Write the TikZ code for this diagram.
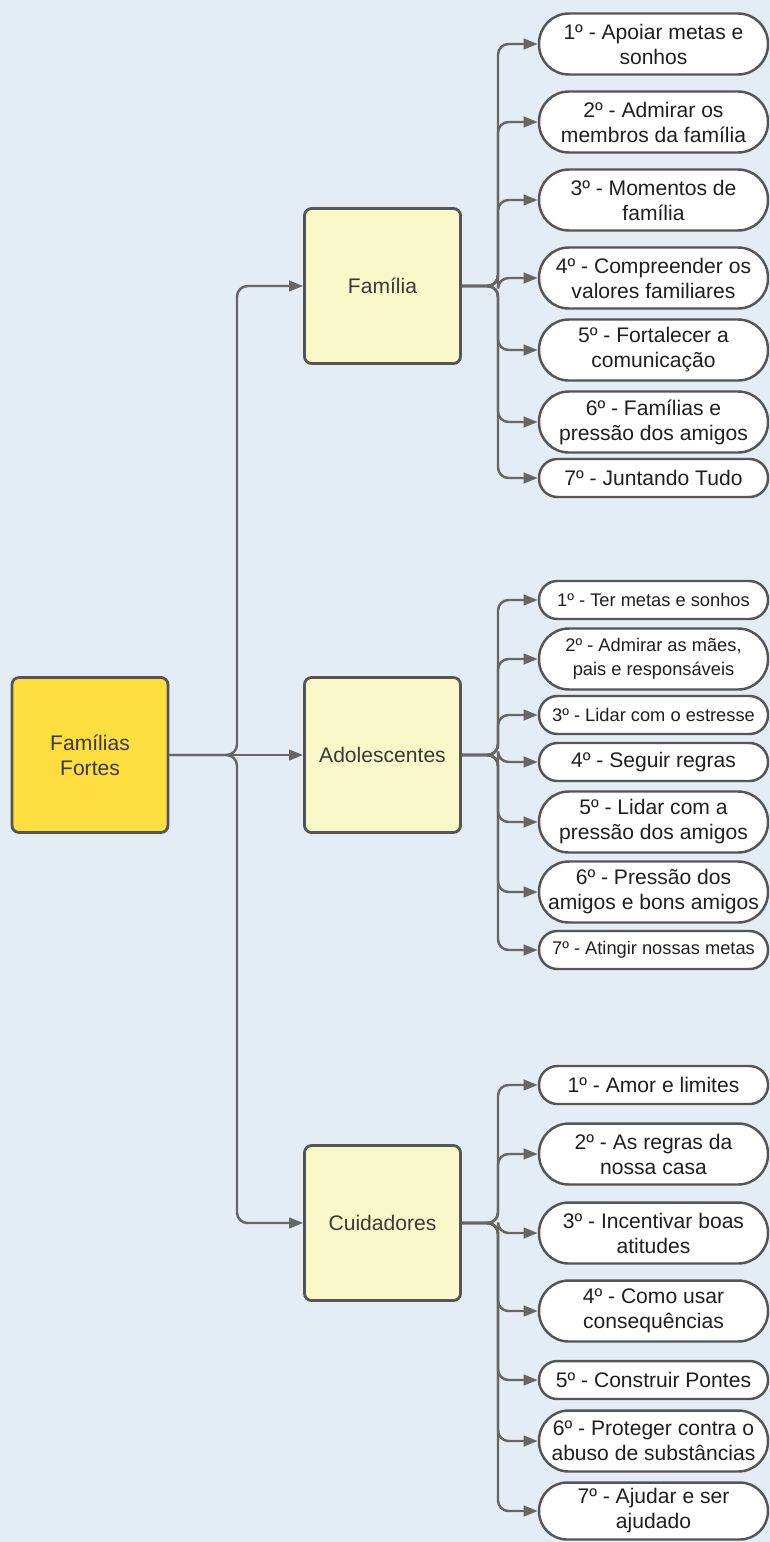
\documentclass[tikz,border=0pt]{standalone}
\usepackage{fontspec}
\setmainfont{Liberation Sans}
\usepackage{xcolor}
\usepackage{tikz}
\usetikzlibrary{arrows.meta,calc}

\definecolor{bgblue}{HTML}{E4ECF6}
\definecolor{rootyellow}{HTML}{FFDF40}
\definecolor{midyellow}{HTML}{F9F8C8}
\definecolor{linegray}{HTML}{666666}
\definecolor{edgegray}{HTML}{555555}
\definecolor{boxtext}{HTML}{3A3A3A}
\definecolor{leaftext}{HTML}{1F1F1F}

\begin{document}
\begin{tikzpicture}[x=0.02cm, y=-0.02cm,
    rootbox/.style={draw=edgegray, line width=1.6pt, fill=rootyellow, rounded corners=4pt,
        minimum width=3.12cm, minimum height=3.1cm, align=center, text=boxtext,
        font=\fontsize{12}{14.2}\selectfont},
    midbox/.style={rootbox, fill=midyellow},
    leaf/.style={draw=edgegray, line width=1.4pt, fill=white, rounded corners=17pt,
        minimum width=4.58cm, minimum height=1.22cm, inner sep=0pt, align=center, text=leaftext,
        font=\fontsize{12}{14.2}\selectfont},
    leafone/.style={leaf, minimum height=0.76cm, rounded corners=10.5pt},
    smalltext/.style={font=\fontsize{10.4}{13.6}\selectfont},
    link/.style={draw=linegray, line width=1.4pt, rounded corners=6pt,
        -{Triangle[length=8pt,width=6pt]}}]

    % background and page size
    \fill[bgblue] (0,0) rectangle (770,1542);
    \useasboundingbox (0,0) rectangle (770,1542);

    % root and the three groups
    \node[rootbox] (root) at (90,755) {Famílias\\Fortes};
    \node[midbox] (fam) at (382.5,286) {Família};
    \node[midbox] (ado) at (382.5,755) {Adolescentes};
    \node[midbox] (cui) at (382.5,1223) {Cuidadores};

    \coordinate (trunk) at (237,755);
    \draw[link] (root.east) -- (trunk) |- (fam.west);
    \draw[link] (root.east) -- (trunk) |- (cui.west);
    \draw[link] (root.east) -- (ado.west);

    % Família
    \node[leaf] (f1) at (653.5,44) {1º - Apoiar metas e\\sonhos};
    \node[leaf] (f2) at (653.5,122) {2º - Admirar os\\membros da família};
    \node[leaf] (f3) at (653.5,200) {3º - Momentos de\\família};
    \node[leaf] (f4) at (653.5,278) {4º - Compreender os\\valores familiares};
    \node[leaf] (f5) at (653.5,350) {5º - Fortalecer a\\comunicação};
    \node[leaf] (f6) at (653.5,422) {6º - Famílias e\\pressão dos amigos};
    \node[leafone] (f7) at (653.5,478) {7º - Juntando Tudo};

    \coordinate (famfork) at (498,286);
    \foreach \i in {1,...,7}
        \draw[link] (fam.east) -- (famfork) |- (f\i.west);

    % Adolescentes
    \node[leafone, smalltext] (a1) at (653.5,600) {1º - Ter metas e sonhos};
    \node[leaf, smalltext] (a2) at (653.5,659) {2º - Admirar as mães,\\pais e responsáveis};
    \node[leafone, smalltext] (a3) at (653.5,715) {3º - Lidar com o estresse};
    \node[leafone] (a4) at (653.5,762) {4º - Seguir regras};
    \node[leaf] (a5) at (653.5,822) {5º - Lidar com a\\pressão dos amigos};
    \node[leaf] (a6) at (653.5,892) {6º - Pressão dos\\amigos e bons amigos};
    \node[leafone, smalltext] (a7) at (653.5,950) {7º - Atingir nossas metas};

    \coordinate (adofork) at (498,755);
    \foreach \i in {1,...,7}
        \draw[link] (ado.east) -- (adofork) |- (a\i.west);

    % Cuidadores
    \node[leafone] (c1) at (653.5,1085) {1º - Amor e limites};
    \node[leaf] (c2) at (653.5,1154) {2º - As regras da\\nossa casa};
    \node[leaf] (c3) at (653.5,1233) {3º - Incentivar boas\\atitudes};
    \node[leaf] (c4) at (653.5,1311) {4º - Como usar\\consequências};
    \node[leafone] (c5) at (653.5,1380) {5º - Construir Pontes};
    \node[leaf] (c6) at (653.5,1441) {6º - Proteger contra o\\abuso de substâncias};
    \node[leaf, minimum height=1.14cm, rounded corners=16pt] (c7) at (653.5,1511) {7º - Ajudar e ser\\ajudado};

    \coordinate (cuifork) at (498,1223);
    \foreach \i in {1,...,7}
        \draw[link] (cui.east) -- (cuifork) |- (c\i.west);
\end{tikzpicture}
\end{document}
